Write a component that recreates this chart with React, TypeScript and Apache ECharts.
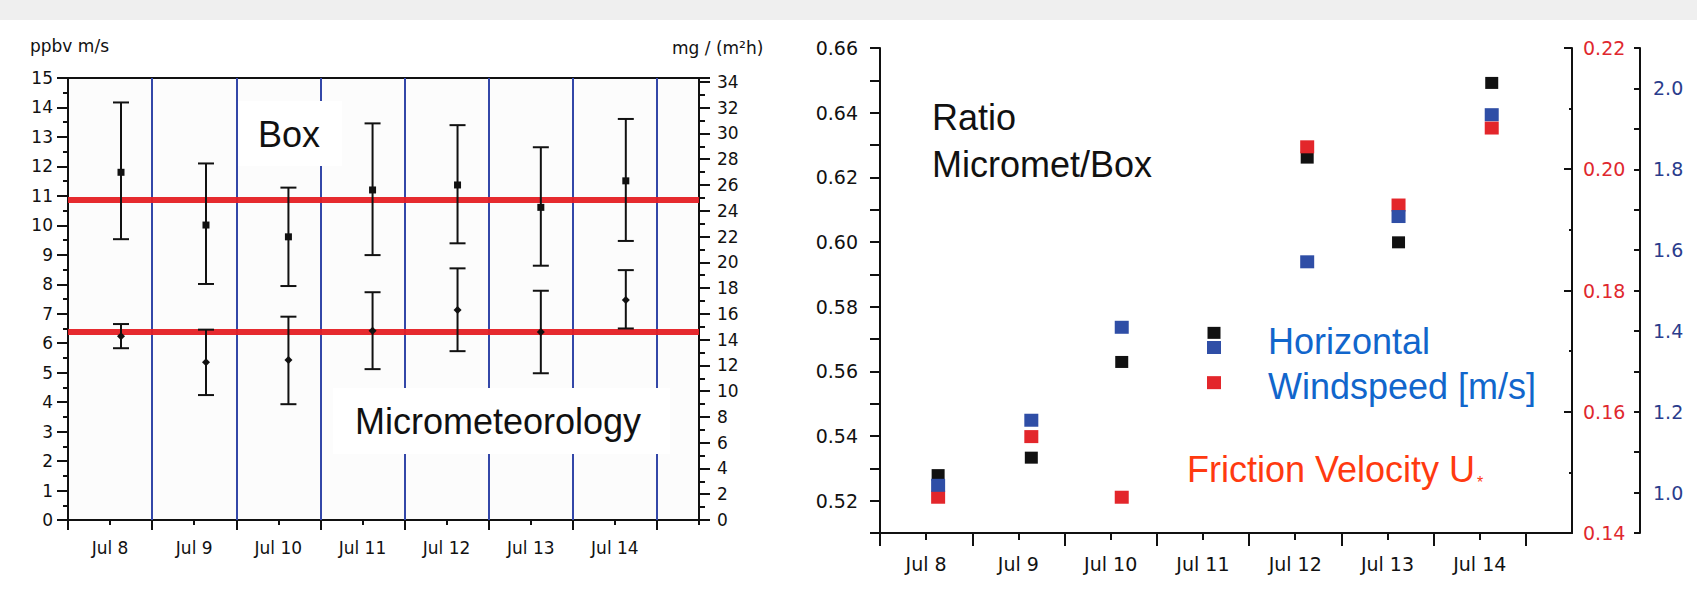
import React, { useEffect, useRef } from 'react';
import * as echarts from 'echarts';

// ---------- data ----------
const dayLabels = ['Jul 8', 'Jul 9', 'Jul 10', 'Jul 11', 'Jul 12', 'Jul 13', 'Jul 14'];
const firstDay = 8; // day of month at the left edge of both panels
const lastEdge = 15.5;
// sample time (day of month + fraction of day)
const sampleTime = [8.63, 9.64, 10.62, 11.62, 12.63, 13.62, 14.63];

// left panel: Box method (mean, lower, upper) [ppbv m/s]
const boxMean = [11.8, 10.01, 9.61, 11.2, 11.37, 10.61, 11.51];
const boxLow = [9.53, 8.01, 7.94, 8.99, 9.39, 8.63, 9.47];
const boxHigh = [14.17, 12.1, 11.28, 13.46, 13.4, 12.65, 13.61];

// left panel: Micrometeorology (mean, lower, upper)
const microMean = [6.24, 5.35, 5.43, 6.42, 7.13, 6.38, 7.47];
const microLow = [5.83, 4.24, 3.93, 5.12, 5.73, 4.98, 6.5];
const microHigh = [6.65, 6.46, 6.9, 7.73, 8.54, 7.78, 8.48];

// overall means (red lines) [ppbv m/s]
const meanLevels = [10.88, 6.38];

// right panel
const ratio = [0.5279, 0.5333, 0.5629, 0.5719, 0.6261, 0.5999, 0.6492];
const windspeed = [1.018, 1.179, 1.409, 1.359, 1.571, 1.683, 1.935];
const friction = [0.1459, 0.1559, 0.1459, 0.1648, 0.2037, 0.1941, 0.2068];

// derived tick positions
const dayBounds = Array.from({ length: 8 }, (_, i) => firstDay + i); // 8..15
const dayMids = dayLabels.map((_, i) => firstDay + i + 0.5); // 8.5..14.5
const dividers = dayBounds.slice(1); // 9..15

const TICK_FONT = 'DejaVu Sans';
const ANN_FONT = 'Liberation Sans, Arial, sans-serif';
const BLACK = '#111111';
const RED = '#e3262b';
const BLUE = '#2f4ea6';

function dayFmt(v: number) {
  const i = Math.floor(v) - firstDay;
  return dayLabels[i] ?? '';
}

function errorBarRender(params: any, api: any) {
  const x = api.value(0);
  const lo = api.value(1);
  const hi = api.value(2);
  const pHi = api.coord([x, hi]);
  const pLo = api.coord([x, lo]);
  const hw = 8;
  const style = { stroke: BLACK, lineWidth: 2 };
  return {
    type: 'group',
    children: [
      { type: 'line', shape: { x1: pHi[0], y1: pHi[1], x2: pLo[0], y2: pLo[1] }, style },
      { type: 'line', shape: { x1: pHi[0] - hw, y1: pHi[1], x2: pHi[0] + hw, y2: pHi[1] }, style },
      { type: 'line', shape: { x1: pLo[0] - hw, y1: pLo[1], x2: pLo[0] + hw, y2: pLo[1] }, style },
    ],
  };
}

export default function App() {
  const ref = useRef<HTMLDivElement>(null);

  useEffect(() => {
    if (!ref.current) return;
    const chart = echarts.init(ref.current, undefined, { renderer: 'svg' });

    const lineStyle = { color: BLACK, width: 2 };

    const xBase = { type: 'value', min: firstDay, max: lastEdge, interval: 0.5, splitLine: { show: false } };

    const option: any = {
      animation: false,
      backgroundColor: '#ffffff',
      grid: [
        { left: 68, top: 78, width: 631, height: 442, show: true, backgroundColor: '#fcfcfc', borderColor: BLACK, borderWidth: 2 },
        { left: 880, top: 48, width: 692, height: 485, show: false },
      ],
      xAxis: [
        {
          ...xBase, gridIndex: 0, position: 'bottom',
          axisLine: { show: true, onZero: false, lineStyle },
          axisTick: { show: true, length: 10, lineStyle, customValues: dayBounds },
          axisLabel: { show: true, customValues: dayMids, formatter: dayFmt, fontSize: 17, fontFamily: TICK_FONT, color: BLACK, margin: 19 },
        },
        {
          ...xBase, gridIndex: 0, position: 'bottom',
          axisLine: { show: false },
          axisTick: { show: true, length: 5, lineStyle, customValues: dayMids },
          axisLabel: { show: false },
        },
        {
          ...xBase, gridIndex: 0, position: 'top',
          axisLine: { show: false },
          axisTick: { show: true, inside: true, length: 5, lineStyle },
          axisLabel: { show: false },
        },
        {
          ...xBase, gridIndex: 1, position: 'bottom',
          axisLine: { show: true, onZero: false, lineStyle },
          axisTick: { show: true, length: 13, lineStyle, customValues: dayBounds },
          axisLabel: { show: true, customValues: dayMids, formatter: dayFmt, fontSize: 19, fontFamily: TICK_FONT, color: BLACK, margin: 21 },
        },
        {
          ...xBase, gridIndex: 1, position: 'bottom',
          axisLine: { show: false },
          axisTick: { show: true, length: 7, lineStyle, customValues: dayMids },
          axisLabel: { show: false },
        },
      ],
      yAxis: [
        {
          type: 'value', gridIndex: 0, position: 'left', min: 0, max: 15, interval: 1,
          axisLine: { show: true, onZero: false, lineStyle },
          axisTick: { show: true, length: 11, lineStyle },
          minorTick: { show: true, splitNumber: 2, length: 5, lineStyle },
          axisLabel: { fontSize: 17, fontFamily: TICK_FONT, color: BLACK, margin: 15 },
          splitLine: { show: false },
        },
        {
          type: 'value', gridIndex: 0, position: 'right', min: 0, max: 34.3, interval: 2,
          axisLine: { show: true, onZero: false, lineStyle },
          axisTick: { show: true, length: 11, lineStyle },
          minorTick: { show: true, splitNumber: 2, length: 6, lineStyle },
          axisLabel: { fontSize: 17, fontFamily: TICK_FONT, color: BLACK, margin: 18, showMaxLabel: false },
          splitLine: { show: false },
        },
        {
          type: 'value', gridIndex: 1, position: 'left', min: 0.51, max: 0.66, interval: 0.01,
          axisLine: { show: true, onZero: false, lineStyle },
          axisTick: { show: true, length: 10, lineStyle },
          axisLabel: {
            fontSize: 19, fontFamily: TICK_FONT, color: BLACK, margin: 22,
            formatter: (v: number) => (Math.round(v * 100) % 2 === 0 ? v.toFixed(2) : ''),
          },
          splitLine: { show: false },
        },
        {
          type: 'value', gridIndex: 1, position: 'right', min: 0.14, max: 0.22, interval: 0.02,
          axisLine: { show: true, onZero: false, lineStyle },
          axisTick: { show: true, inside: true, length: 8, lineStyle },
          minorTick: { show: true, splitNumber: 2, length: 3, lineStyle },
          axisLabel: { fontSize: 19, fontFamily: TICK_FONT, color: '#e0282e', margin: 11, formatter: (v: number) => v.toFixed(2) },
          splitLine: { show: false },
        },
        {
          type: 'value', gridIndex: 1, position: 'right', offset: 68, min: 0.9, max: 2.1, interval: 0.1,
          axisLine: { show: true, onZero: false, lineStyle },
          axisTick: { show: true, inside: true, length: 6, lineStyle },
          axisLabel: {
            fontSize: 19, fontFamily: TICK_FONT, color: '#2a3c8c', margin: 13,
            formatter: (v: number) => (Math.round(v * 10) % 2 === 0 ? v.toFixed(1) : ''),
          },
          splitLine: { show: false },
        },
      ],
      series: [
        {
          name: 'dividers', type: 'line', xAxisIndex: 0, yAxisIndex: 0, data: [], z: 1,
          markLine: {
            silent: true, symbol: ['none', 'none'], z: 1, label: { show: false },
            lineStyle: { color: '#3347a8', width: 2, type: 'solid' },
            emphasis: { disabled: true },
            data: dividers.map((d) => ({ xAxis: d })),
          },
        },
        {
          name: 'means', type: 'line', xAxisIndex: 0, yAxisIndex: 0, data: [], z: 2,
          markLine: {
            silent: true, symbol: ['none', 'none'], z: 2, label: { show: false },
            lineStyle: { color: '#e51f24', width: 6, type: 'solid', opacity: 0.95 },
            emphasis: { disabled: true },
            data: meanLevels.map((m) => ({ yAxis: m })),
          },
        },
        {
          name: 'Box range', type: 'custom', xAxisIndex: 0, yAxisIndex: 0, z: 10,
          renderItem: errorBarRender, encode: { x: 0, y: [1, 2] },
          data: sampleTime.map((t, i) => [t, boxLow[i], boxHigh[i]]),
        },
        {
          name: 'Micrometeorology range', type: 'custom', xAxisIndex: 0, yAxisIndex: 0, z: 10,
          renderItem: errorBarRender, encode: { x: 0, y: [1, 2] },
          data: sampleTime.map((t, i) => [t, microLow[i], microHigh[i]]),
        },
        {
          name: 'Box', type: 'scatter', xAxisIndex: 0, yAxisIndex: 0, z: 11,
          symbol: 'rect', symbolSize: 7, itemStyle: { color: BLACK, opacity: 1 },
          data: sampleTime.map((t, i) => [t, boxMean[i]]),
        },
        {
          name: 'Micrometeorology', type: 'scatter', xAxisIndex: 0, yAxisIndex: 0, z: 11,
          symbol: 'diamond', symbolSize: 8, itemStyle: { color: BLACK, opacity: 1 },
          data: sampleTime.map((t, i) => [t, microMean[i]]),
        },
        {
          name: 'Ratio Micromet/Box', type: 'scatter', xAxisIndex: 3, yAxisIndex: 2, z: 11,
          symbol: 'rect', symbolSize: [13, 12], itemStyle: { color: BLACK, opacity: 1 },
          data: sampleTime.map((t, i) => [t, ratio[i]]),
        },
        {
          name: 'Friction Velocity', type: 'scatter', xAxisIndex: 3, yAxisIndex: 3, z: 12,
          symbol: 'rect', symbolSize: [14, 13], itemStyle: { color: RED, opacity: 1 },
          data: sampleTime.map((t, i) => [t, friction[i]]),
        },
        {
          name: 'Horizontal Windspeed', type: 'scatter', xAxisIndex: 3, yAxisIndex: 4, z: 13,
          symbol: 'rect', symbolSize: [14, 13], itemStyle: { color: BLUE, opacity: 1 },
          data: sampleTime.map((t, i) => [t, windspeed[i]]),
        },
      ],
      graphic: [
        { type: 'rect', left: 0, top: 0, shape: { width: 1697, height: 20 }, style: { fill: '#efefef' }, z: 0, silent: true },
        { type: 'text', x: 30, y: 46, style: { text: 'ppbv m/s', fontSize: 17, fontFamily: TICK_FONT, fill: BLACK, verticalAlign: 'middle' } },
        { type: 'text', x: 672, y: 48, style: { text: 'mg / (m²h)', fontSize: 17, fontFamily: TICK_FONT, fill: BLACK, verticalAlign: 'middle' } },
        { type: 'rect', x: 238, y: 101, shape: { width: 104, height: 65 }, style: { fill: '#ffffff' }, z: 50 },
        { type: 'text', x: 258, y: 134, z: 51, style: { text: 'Box', fontSize: 36, fontFamily: ANN_FONT, fill: BLACK, verticalAlign: 'middle' } },
        { type: 'rect', x: 333, y: 388, shape: { width: 337, height: 66 }, style: { fill: '#ffffff' }, z: 50 },
        { type: 'text', x: 355, y: 421, z: 51, style: { text: 'Micrometeorology', fontSize: 36, fontFamily: ANN_FONT, fill: BLACK, verticalAlign: 'middle' } },
        { type: 'text', x: 932, y: 117, z: 51, style: { text: 'Ratio', fontSize: 36, fontFamily: ANN_FONT, fill: BLACK, verticalAlign: 'middle' } },
        { type: 'text', x: 932, y: 164, z: 51, style: { text: 'Micromet/Box', fontSize: 36, fontFamily: ANN_FONT, fill: BLACK, verticalAlign: 'middle' } },
        { type: 'text', x: 1268, y: 341, z: 51, style: { text: 'Horizontal', fontSize: 36, fontFamily: ANN_FONT, fill: '#1166cc', verticalAlign: 'middle' } },
        { type: 'text', x: 1268, y: 386, z: 51, style: { text: 'Windspeed [m/s]', fontSize: 36, fontFamily: ANN_FONT, fill: '#1166cc', verticalAlign: 'middle' } },
        { type: 'text', x: 1187, y: 469, z: 51, style: { text: 'Friction Velocity U', fontSize: 36, fontFamily: ANN_FONT, fill: '#ff3a10', verticalAlign: 'middle' } },
        { type: 'text', x: 1477, y: 482, z: 51, style: { text: '*', fontSize: 16, fontFamily: ANN_FONT, fill: '#ff3a10', verticalAlign: 'middle' } },
      ],
    };

    chart.setOption(option);
    return () => chart.dispose();
  }, []);

  return (
    <div
      ref={ref}
      style={{ position: 'absolute', left: 0, top: 0, width: 1697, height: 614, background: '#ffffff' }}
    />
  );
}
